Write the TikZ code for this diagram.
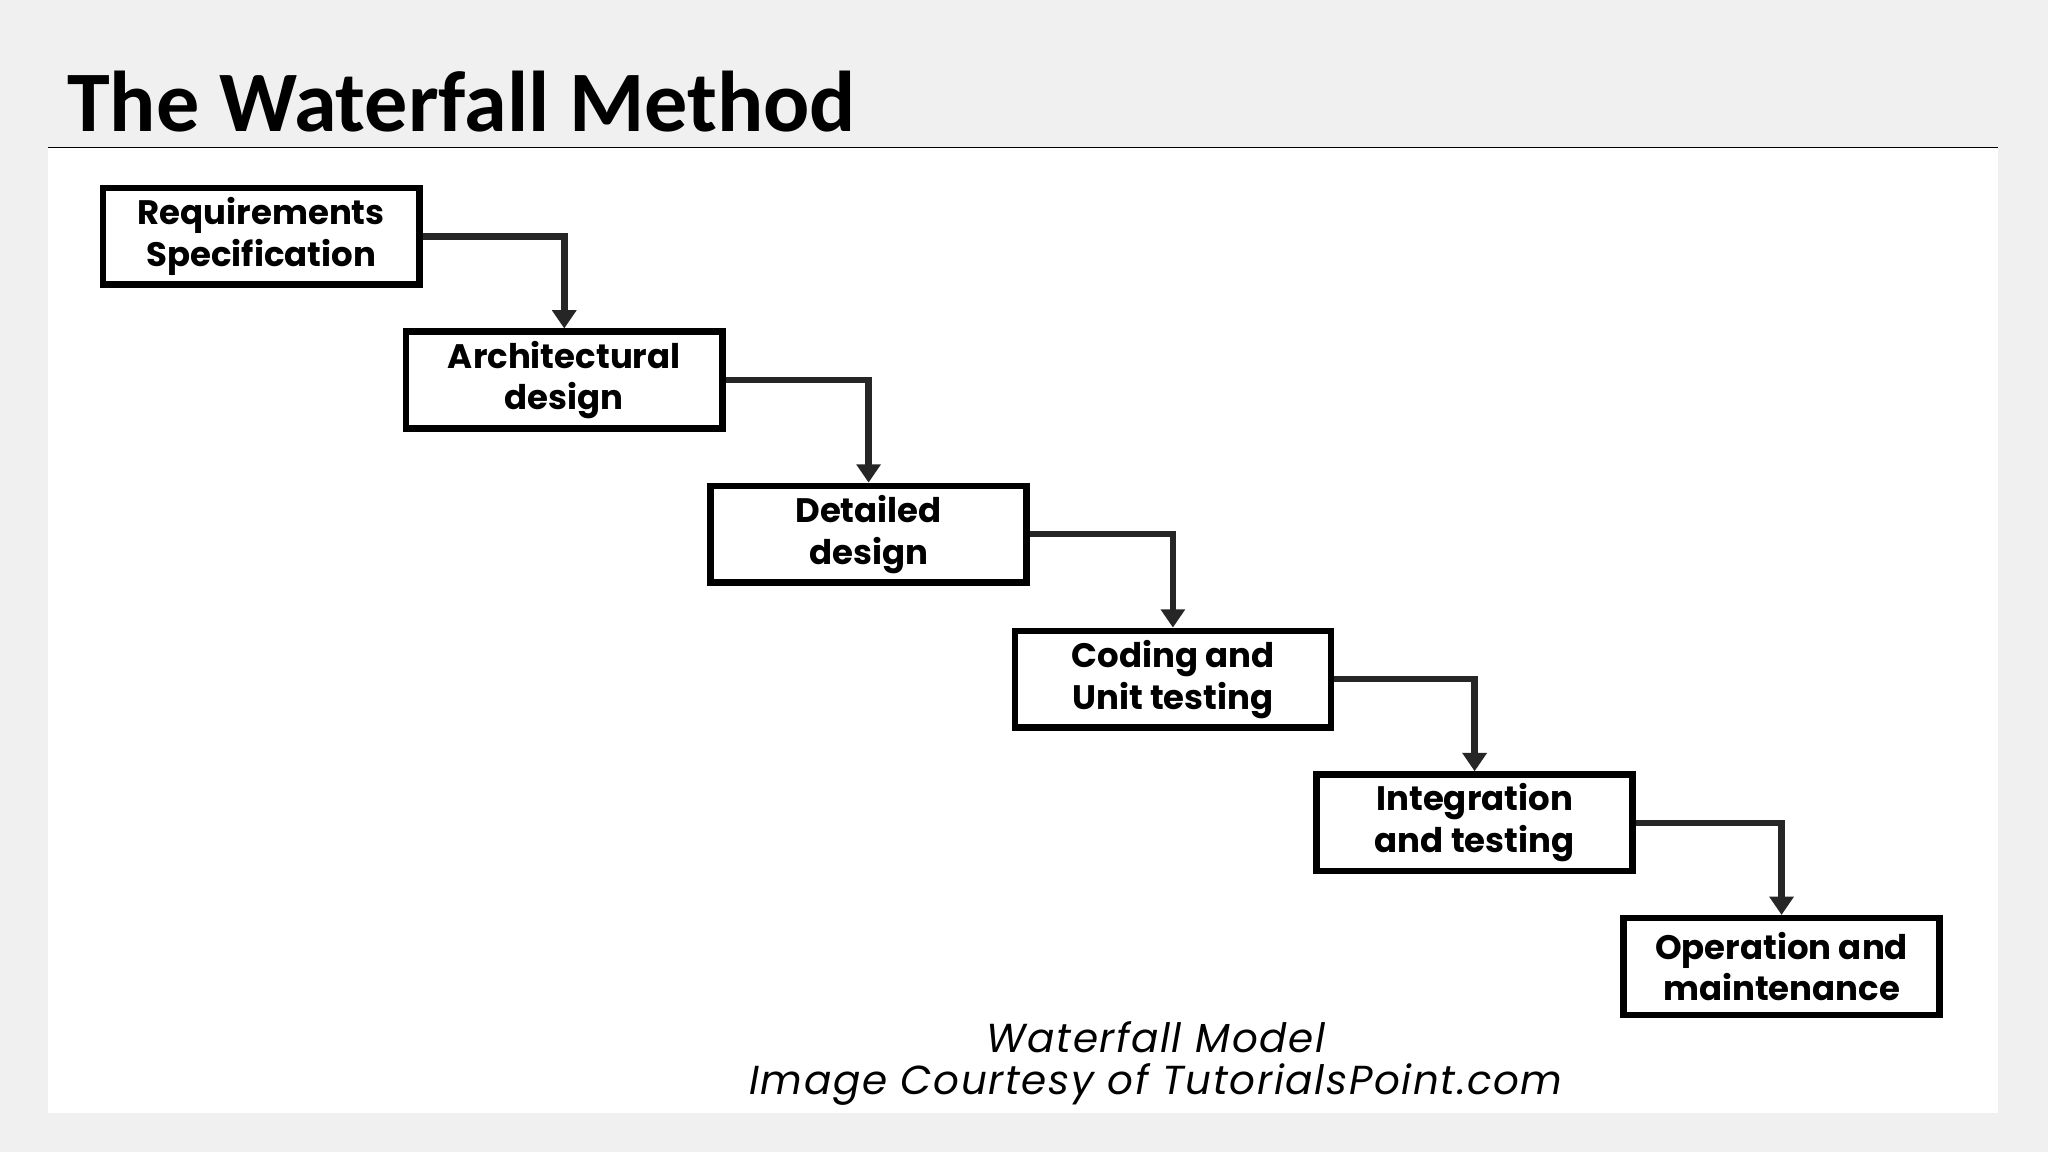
\documentclass[tikz,border=0pt]{standalone}
\usepackage{fontspec}
\setmainfont{Poppins}
\newfontfamily\titlefont{Carlito}
\newfontfamily\capfont[LetterSpace=4]{Poppins}
\usetikzlibrary{arrows.meta}
\tikzset{
  stage/.style={draw=black,line width=5pt,minimum width=242pt,minimum height=74pt,inner sep=0pt,align=center,font=\fontsize{26}{32}\selectfont\bfseries},
  flow/.style={draw=black!85,line width=5pt,-{Triangle[length=14pt,width=18pt]}}
}
\begin{document}
\begin{tikzpicture}[x=1pt,y=-1pt]
\useasboundingbox (0,0) rectangle (1568,882);
\fill[black!6] (0,0) rectangle (1568,882);
\fill[white] (37,113) rectangle (1530,852);
\draw[line width=1.2pt] (37,113) -- (1530,113);
\node[anchor=west,font=\titlefont\fontsize{66}{76}\selectfont\bfseries] (title) at (48,78) {The Waterfall Method};
\node[stage] (s1) at (200,181) {Requirements\\Specification};
\node[stage] (s2) at (432,291) {Architectural\\design};
\node[stage] (s3) at (665,409) {Detailed\\design};
\node[stage] (s4) at (898,520) {Coding and\\Unit testing};
\node[stage] (s5) at (1129,630) {Integration\\and testing};
\node[stage] (s6) at (1364,740) {Operation and\\maintenance};
\draw[flow] (s1.east) -| (s2.north);
\draw[flow] (s2.east) -| (s3.north);
\draw[flow] (s3.east) -| (s4.north);
\draw[flow] (s4.east) -| (s5.north);
\draw[flow] (s5.east) -| (s6.north);
\node[font=\capfont\fontsize{31}{32}\selectfont\itshape\mdseries,align=center] (cap) at (885,814) {Waterfall Model\\Image Courtesy of TutorialsPoint.com};
\end{tikzpicture}
\end{document}
